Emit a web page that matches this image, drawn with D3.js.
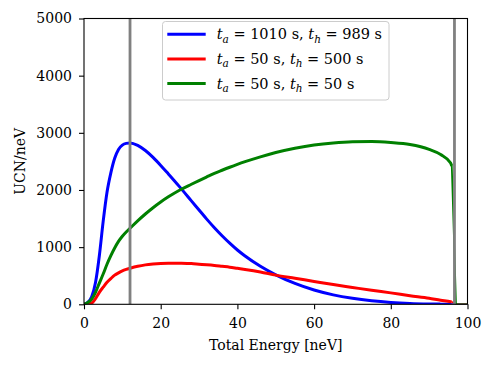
<!DOCTYPE html>
<html>
<head>
<meta charset="utf-8">
<script src="https://cdn.jsdelivr.net/npm/d3@7"></script>
<style>
  body { margin: 0; background: #fff; }
  svg { font-family: "DejaVu Serif", serif; }
</style>
</head>
<body>
<div id="chart"></div>
<script>
"use strict";

// energy grid [neV] shared by the three spectra
var energy = [0, 1, 2, 3, 4, 5, 6, 7, 8, 9,
              10, 11, 12, 14, 16, 18, 20, 22, 25, 28,
              30, 32, 34, 36, 38, 40, 42, 46, 50, 55,
              60, 65, 70, 75, 80, 85, 90, 93, 95.6, 95.9,
              96.5, 97, 100];

// t_a = 1010 s, t_h = 989 s
var ucnLong = [0, 35, 130, 380, 850, 1450, 1960, 2300, 2555, 2710,
               2785, 2815, 2822, 2780, 2690, 2570, 2430, 2280, 2050, 1810,
               1650, 1490, 1340, 1200, 1070, 950, 845, 665, 515, 365,
               250, 165, 105, 62, 33, 15, 6, 3, 1, 1,
               0, 0, 0];

// t_a = 50 s, t_h = 500 s
var ucnMid = [0, 0, 20, 100, 210, 300, 385, 450, 510, 550,
              585, 610, 630, 665, 690, 705, 715, 720, 718, 712,
              702, 692, 680, 665, 650, 630, 610, 565, 510, 455,
              400, 345, 295, 245, 200, 150, 105, 70, 45, 40,
              30, 0, 0];

// t_a = 50 s, t_h = 50 s
var ucnShort = [0, 30, 90, 210, 370, 530, 700, 850, 985, 1100,
                1190, 1265, 1330, 1460, 1580, 1690, 1790, 1880, 2000, 2100,
                2165, 2228, 2290, 2345, 2398, 2448, 2495, 2580, 2655, 2730,
                2787, 2823, 2843, 2847, 2830, 2795, 2710, 2620, 2470, 2420,
                1100, 0, 0];

var seriesNames = [["1010", "989"], ["50", "500"], ["50", "50"]];
var seriesColors = ["#0000ff", "#ff0000", "#008000"];
var cutEnergies = [12, 96.6];
var xTicks = [0, 20, 40, 60, 80, 100];
var yTicks = [0, 1000, 2000, 3000, 4000, 5000];

var margin = { top: 18.5, right: 26.5, bottom: 63.7, left: 84 },
    fullW = 494, fullH = 368,
    width = fullW - margin.left - margin.right,
    height = fullH - margin.top - margin.bottom;

var svg = d3.select("#chart").append("svg")
  .attr("width", fullW)
  .attr("height", fullH)
  .append("g")
  .attr("transform", "translate(" + margin.left + "," + margin.top + ")");

var x = d3.scaleLinear().domain([0, 100]).range([0, width]);
var y = d3.scaleLinear().domain([0, 5000]).range([height, 0]);

var allSeries = [ucnLong, ucnMid, ucnShort];

var line = d3.line()
  .x(function (d) { return x(d[0]); })
  .y(function (d) { return y(d[1]); })
  .curve(d3.curveMonotoneX);

svg.append("defs").append("clipPath").attr("id", "clip")
  .append("rect").attr("width", width).attr("height", height);

var plot = svg.append("g").attr("clip-path", "url(#clip)");

// the steep cutoff at the end of the spectra is drawn thinner, as in the source plot
var cutIdx = energy.indexOf(95.9);

allSeries.forEach(function (vals, i) {
  var pts = energy.map(function (e, k) { return [e, vals[k]]; });
  plot.append("path")
    .datum(pts.slice(0, cutIdx + 1))
    .attr("d", line)
    .attr("fill", "none")
    .attr("stroke", seriesColors[i])
    .attr("stroke-width", 3)
    .attr("stroke-linejoin", "round");
  plot.append("path")
    .datum(pts.slice(cutIdx))
    .attr("d", d3.line().x(function (d) { return x(d[0]); }).y(function (d) { return y(d[1]); }))
    .attr("fill", "none")
    .attr("stroke", seriesColors[i])
    .attr("stroke-width", 1.8);
});

// vertical markers
plot.selectAll(".cut")
  .data(cutEnergies)
  .enter().append("line")
  .attr("x1", function (d) { return x(d); })
  .attr("x2", function (d) { return x(d); })
  .attr("y1", 0)
  .attr("y2", height)
  .attr("stroke", "#808080")
  .attr("stroke-width", 2.8);

// axes
var xAxis = svg.append("g")
  .attr("transform", "translate(0," + height + ")")
  .call(d3.axisBottom(x).tickValues(xTicks).tickFormat(d3.format("d"))
    .tickSize(5).tickPadding(8.5).tickSizeOuter(0));
var yAxis = svg.append("g")
  .call(d3.axisLeft(y).tickValues(yTicks).tickFormat(d3.format("d"))
    .tickSize(5).tickPadding(7).tickSizeOuter(0));

[xAxis, yAxis].forEach(function (ax) {
  ax.attr("font-family", "DejaVu Serif").attr("font-size", 14);
  ax.selectAll("text").attr("font-size", 14).attr("fill", "#000")
    .style("font-family", "'DejaVu Serif', serif");
  ax.selectAll("line").attr("stroke", "#000").attr("stroke-width", 1.1);
  ax.select(".domain").remove();
});

svg.append("rect")
  .attr("width", width).attr("height", height)
  .attr("fill", "none").attr("stroke", "#000").attr("stroke-width", 1.1);

svg.append("text")
  .attr("x", width / 2).attr("y", 350 - margin.top)
  .attr("text-anchor", "middle")
  .attr("font-size", 14)
  .text("Total Energy [neV]");

svg.append("text")
  .attr("transform", "translate(" + (25 - margin.left) + "," + (height / 2) + ") rotate(-90)")
  .attr("text-anchor", "middle")
  .attr("font-size", 14)
  .text("UCN/neV");

// legend
var legend = svg.append("g").attr("transform", "translate(" + (162.5 - margin.left) + "," + (21.5 - margin.top) + ")");
legend.append("rect")
  .attr("width", 226.5).attr("height", 78.5)
  .attr("rx", 3)
  .attr("fill", "#fff").attr("fill-opacity", 0.8)
  .attr("stroke", "#ccc").attr("stroke-width", 1);

seriesNames.forEach(function (nm, i) {
  var cy = 12.8 + i * 24.6;
  legend.append("line")
    .attr("x1", 4.8).attr("x2", 43.2)
    .attr("y1", cy).attr("y2", cy)
    .attr("stroke", seriesColors[i]).attr("stroke-width", 3);
  var t = legend.append("text")
    .attr("x", 54.2).attr("y", cy + 5)
    .attr("font-size", 14.5);
  t.append("tspan").attr("font-style", "italic").text("t");
  t.append("tspan").attr("font-style", "italic").attr("font-size", 10.5).attr("dy", 3.5).text("a");
  t.append("tspan").attr("dy", -3.5).text(" = " + nm[0] + " s, ");
  t.append("tspan").attr("font-style", "italic").text("t");
  t.append("tspan").attr("font-style", "italic").attr("font-size", 10.5).attr("dy", 3.5).text("h");
  t.append("tspan").attr("dy", -3.5).text(" = " + nm[1] + " s");
});
</script>
</body>
</html>
